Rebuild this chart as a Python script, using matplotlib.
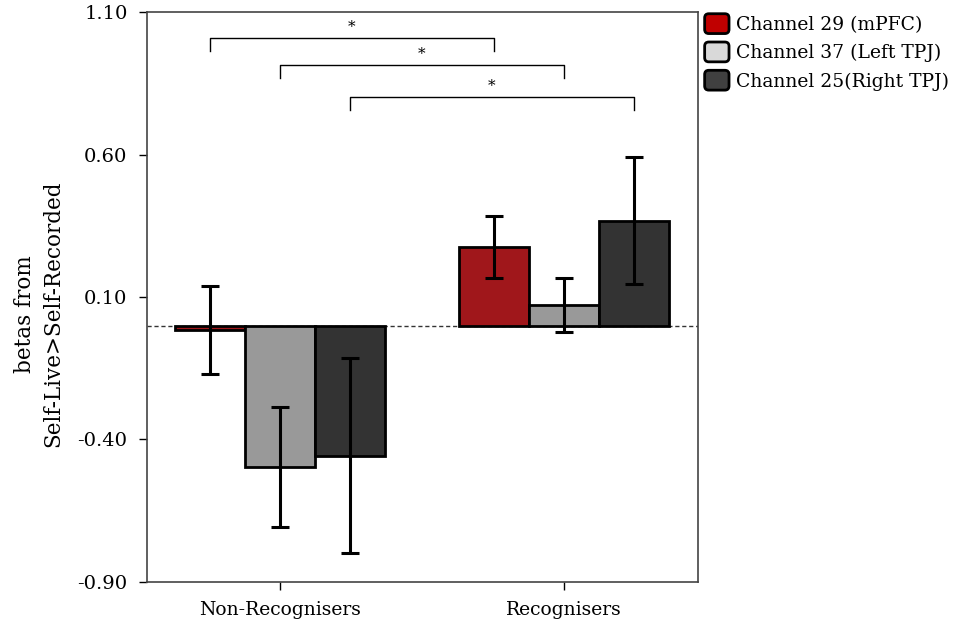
import matplotlib
matplotlib.use("Agg")
import matplotlib.pyplot as plt
import numpy as np
from matplotlib.patches import Patch, FancyBboxPatch
from matplotlib.legend_handler import HandlerPatch

plt.rcParams['font.family'] = ['DejaVu Serif']

groups = ["Non-Recognisers", "Recognisers"]
channels = ["Channel 29 (mPFC)", "Channel 37 (Left TPJ)", "Channel 25(Right TPJ)"]
means = [[-0.015, 0.275],
         [-0.497, 0.072],
         [-0.457, 0.367]]
errors = [[0.155, 0.108],
          [0.210, 0.095],
          [0.343, 0.223]]
bar_colors = ["#A0171B", "#999999", "#333333"]
legend_colors = ["#C00000", "#D9D9D9", "#404040"]
yticks = [-0.90, -0.40, 0.10, 0.60, 1.10]

# significance brackets: (channel index, bracket height, drop)
brackets = [(0, 1.009, 0.045), (1, 0.914, 0.045), (2, 0.802, 0.045)]


class RoundHandler(HandlerPatch):
    def create_artists(self, legend, orig_handle, xdescent, ydescent,
                       width, height, fontsize, trans):
        p = FancyBboxPatch((-xdescent, -ydescent), width, height,
                           boxstyle="round,pad=0,rounding_size=3",
                           facecolor=orig_handle.get_facecolor(),
                           edgecolor="black", linewidth=2, transform=trans)
        return [p]


fig = plt.figure(figsize=(9.57, 6.26), dpi=100)
ax = fig.add_axes([0.1536, 0.0703, 0.5758, 0.9105])

x = np.arange(len(groups))
w = 0.2465
for i in range(len(channels)):
    ax.bar(x + (i - 1) * w, means[i], width=w, color=bar_colors[i],
           edgecolor="black", linewidth=2, zorder=2)
    ax.errorbar(x + (i - 1) * w, means[i], yerr=errors[i], fmt="none",
                ecolor="black", elinewidth=2.2, capsize=6.5, capthick=2.2, zorder=3)

ax.axhline(0, color="#333333", linestyle=(0, (3, 2)), linewidth=1, zorder=1)

for ch, h, d in brackets:
    x1 = x[0] + (ch - 1) * w
    x2 = x[1] + (ch - 1) * w
    ax.plot([x1, x1, x2, x2], [h - d, h, h, h - d], color="black", linewidth=1, clip_on=False)
    ax.text((x1 + x2) / 2, h + 0.015, "*", ha="center", va="bottom", fontsize=11)

ax.set_xlim(-0.468, 1.472)
ax.set_ylim(-0.90, 1.10)
ax.set_yticks(yticks)
ax.set_yticklabels(["%.2f" % v for v in yticks], fontsize=14)
ax.set_xticks(x)
ax.set_xticklabels(groups, fontsize=13.5)
ax.tick_params(direction="out", length=6, width=1)
ax.tick_params(axis="y", pad=8)
ax.tick_params(axis="x", pad=8)
for s in ax.spines.values():
    s.set_color("#444444")
    s.set_linewidth(1.2)

ax.set_ylabel("betas from\nSelf-Live>Self-Recorded", fontsize=15.5, linespacing=1.35)
ax.yaxis.set_label_coords(-0.15, 0.47)

handles = [Patch(facecolor=c) for c in legend_colors]
ax.legend(handles, channels, loc="upper left", bbox_to_anchor=(1.012, 0.997),
          frameon=False, fontsize=13.5, handlelength=1.3, handleheight=1.25,
          handletextpad=0.35, labelspacing=0.43, borderaxespad=0, borderpad=0,
          handler_map={Patch: RoundHandler()})

fig.savefig("out.png", dpi=100)
